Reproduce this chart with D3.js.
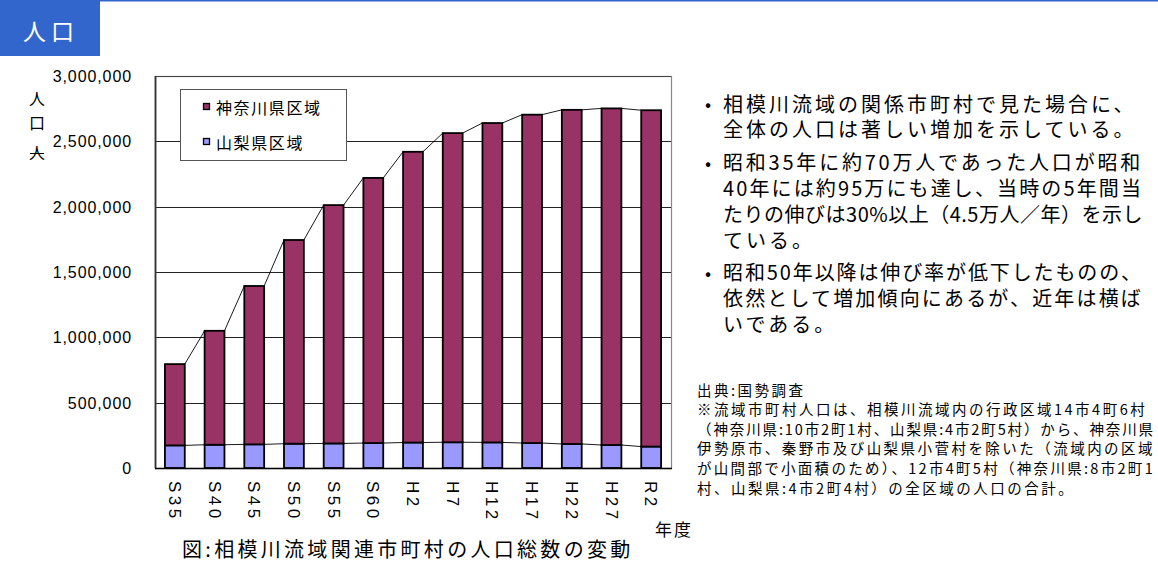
<!DOCTYPE html>
<html><head><meta charset="utf-8">
<script src="https://cdn.jsdelivr.net/npm/d3@7"></script>
<style>
html,body{margin:0;padding:0;background:#fff;}
svg{display:block;}
text{font-family:"Noto Sans CJK JP","Noto Sans",sans-serif;fill:#000;}
.num{font-family:"Liberation Sans",Arial,sans-serif;}
</style></head><body>
<svg id="c" width="1158" height="566"></svg>
<script>
// Census years (Showa / Heisei / Reiwa) and population by prefecture part of the basin
const years = ["S35","S40","S45","S50","S55","S60","H2","H7","H12","H17","H22","H27","R2"];
const kanagawa = [622000, 872000, 1212000, 1559000, 1824000, 2029000, 2225000, 2366000, 2444000, 2513000, 2557000, 2576000, 2574000];
const yamanashi = [173000, 178000, 181000, 186000, 188000, 191000, 195000, 197000, 196000, 191000, 184000, 176000, 164000];
const seriesNames = ["神奈川県区域", "山梨県区域"];
const yTicks = [0, 500000, 1000000, 1500000, 2000000, 2500000, 3000000];

const bulletParas = [
  ["相模川流域の関係市町村で見た場合に、", "全体の人口は著しい増加を示している。"],
  ["昭和35年に約70万人であった人口が昭和", "40年には約95万にも達し、当時の5年間当", "たりの伸びは30%以上（4.5万人／年）を示し", "ている。"],
  ["昭和50年以降は伸び率が低下したものの、", "依然として増加傾向にあるが、近年は横ば", "いである。"]
];
const noteLines = [
  "出典:国勢調査",
  "※流域市町村人口は、相模川流域内の行政区域14市4町6村",
  "（神奈川県:10市2町1村、山梨県:4市2町5村）から、神奈川県",
  "伊勢原市、秦野市及び山梨県小菅村を除いた（流域内の区域",
  "が山間部で小面積のため）、12市4町5村（神奈川県:8市2町1",
  "村、山梨県:4市2町4村）の全区域の人口の合計。"
];

const colors = {kanagawa: "#993366", yamanashi: "#9999FF"};
const svg = d3.select("#c");

// tighten letter spacing on a line only when it would run past the right edge
function fitText(sel, x0, right, ls) {
  sel.attr("letter-spacing", 0);
  const w = sel.node().getComputedTextLength();
  const n = sel.text().length;
  const fit = (right - x0 - w) / n;
  sel.attr("letter-spacing", Math.max(0, Math.min(ls, fit)));
}

// page header tab
svg.append("line").attr("x1", 0).attr("x2", 1158).attr("y1", 0.75).attr("y2", 0.75)
  .attr("stroke", "#3366CC").attr("stroke-width", 1.5);
svg.append("rect").attr("x", 0).attr("y", 0).attr("width", 100).attr("height", 56).attr("fill", "#3366CC");
svg.append("text").attr("x", 51).attr("y", 30).attr("text-anchor", "middle")
  .attr("dominant-baseline", "central").attr("font-size", 23).attr("letter-spacing", 5)
  .style("fill", "#fff").text("人口");

// plot geometry
const L = 155, R = 671, T = 76, B = 468;
const x = d3.scaleBand().domain(years).range([L, R]).paddingInner(0.5).paddingOuter(0.25);
const y = d3.scaleLinear().domain([0, 3000000]).range([B, T]);

// gridlines
svg.append("g").selectAll("line").data(yTicks.filter(d => d > 0)).join("line")
  .attr("x1", L).attr("x2", R).attr("y1", d => Math.round(y(d)) + 0.5).attr("y2", d => Math.round(y(d)) + 0.5)
  .attr("stroke", "#222").attr("stroke-width", 1);

// plot frame
svg.append("rect").attr("x", L + 0.5).attr("y", T + 0.5).attr("width", R - L).attr("height", B - T)
  .attr("fill", "none").attr("stroke", "#888").attr("stroke-width", 1.2);
svg.append("line").attr("x1", L + 0.5).attr("x2", R).attr("y1", T + 0.5).attr("y2", T + 0.5).attr("stroke", "#444").attr("stroke-width", 1.2);
svg.append("line").attr("x1", L + 0.5).attr("x2", L + 0.5).attr("y1", T).attr("y2", B).attr("stroke", "#333").attr("stroke-width", 1.8);

// y axis labels
const yAxis = svg.append("g").attr("transform", `translate(${L},0)`)
  .call(d3.axisLeft(y).tickValues(yTicks).tickSize(0).tickPadding(23).tickFormat(d3.format(",")));
yAxis.select(".domain").remove();
yAxis.selectAll("text").attr("class", "num").attr("font-size", 16).attr("letter-spacing", 0.9)
  .attr("dy", "0.35em").style("fill", "#000");

// stacked series: Yamanashi at the bottom, Kanagawa above
const rows = years.map((yr, i) => ({year: yr, yamanashi: yamanashi[i], kanagawa: kanagawa[i]}));
const stacked = d3.stack().keys(["yamanashi", "kanagawa"])(rows);

// series lines joining the tops of neighbouring bars
const bw = x.bandwidth();
stacked.forEach(layer => {
  const segs = d3.pairs(layer);
  svg.append("g").selectAll("line").data(segs).join("line")
    .attr("x1", d => x(d[0].data.year) + bw).attr("y1", d => y(d[0][1]))
    .attr("x2", d => x(d[1].data.year)).attr("y2", d => y(d[1][1]))
    .attr("stroke", "#000").attr("stroke-width", 0.9);
});

// bars
svg.append("g").selectAll("g").data(stacked).join("g")
  .attr("fill", d => colors[d.key])
  .selectAll("rect").data(d => d).join("rect")
  .attr("x", d => x(d.data.year)).attr("y", d => y(d[1]))
  .attr("width", bw).attr("height", d => y(d[0]) - y(d[1]))
  .attr("stroke", "#000").attr("stroke-width", 1.8);

// baseline
svg.append("line").attr("x1", L).attr("x2", R + 1).attr("y1", B + 0.5).attr("y2", B + 0.5).attr("stroke", "#000").attr("stroke-width", 1.4);

// x axis labels (rotated)
const xAxis = svg.append("g").attr("transform", `translate(0,${B})`).call(d3.axisBottom(x).tickSize(0));
xAxis.select(".domain").remove();
xAxis.selectAll("text").attr("class", "num").attr("font-size", 17).attr("letter-spacing", 3.5)
  .attr("transform", "rotate(90)").attr("x", 13).attr("y", 0).attr("dy", "0.35em")
  .style("text-anchor", "start").style("fill", "#000");

// y axis title
[["人", 98], ["口", 122], ["人", 152]].forEach(([ch, yy]) => {
  svg.append("text").attr("x", 37).attr("y", yy).attr("text-anchor", "middle")
    .attr("dominant-baseline", "central").attr("font-size", 16).text(ch);
});
svg.append("line").attr("x1", 30).attr("x2", 44).attr("y1", 153.5).attr("y2", 153.5).attr("stroke", "#000").attr("stroke-width", 1);

// legend
const lg = svg.append("g");
lg.append("rect").attr("x", 180.5).attr("y", 89.5).attr("width", 166).attr("height", 71)
  .attr("fill", "#fff").attr("stroke", "#555").attr("stroke-width", 1);
[["kanagawa", seriesNames[0], 107], ["yamanashi", seriesNames[1], 142]].forEach(([k, name, yy]) => {
  lg.append("rect").attr("x", 203.5).attr("y", yy - 3.5).attr("width", 6).attr("height", 6)
    .attr("fill", colors[k]).attr("stroke", "#000").attr("stroke-width", 1.3);
  lg.append("text").attr("x", 216).attr("y", yy).attr("dominant-baseline", "central")
    .attr("font-size", 16).attr("letter-spacing", 1.6).text(name);
});

// axis unit and caption
svg.append("text").attr("x", 655).attr("y", 528).attr("dominant-baseline", "central")
  .attr("font-size", 17).attr("letter-spacing", 2).text("年度");
svg.append("text").attr("x", 182).attr("y", 548).attr("dominant-baseline", "central")
  .attr("font-size", 20).attr("letter-spacing", 3.3).text("図:相模川流域関連市町村の人口総数の変動");

// bullet commentary
let lineY = 103;
const textX = 723;
const bulletG = svg.append("g");
bulletParas.forEach(para => {
  bulletG.append("text").attr("x", 708).attr("y", lineY).attr("text-anchor", "middle")
    .attr("dominant-baseline", "central").attr("font-size", 18).text("•");
  para.forEach(t => {
    const tx = bulletG.append("text").attr("x", textX).attr("y", lineY).attr("dominant-baseline", "central")
      .attr("font-size", 20).text(t);
    fitText(tx, textX, 1143, 3.0);
    lineY += 25.8;
  });
  lineY += 7;
});

// source note
const noteG = svg.append("g");
noteLines.forEach((t, i) => {
  const tx = noteG.append("text").attr("x", 697).attr("y", 389 + i * 19.6).attr("dominant-baseline", "central")
    .attr("font-size", 14.5).text(t);
  fitText(tx, 697, 1155, 2.5);
});
</script>
</body></html>
